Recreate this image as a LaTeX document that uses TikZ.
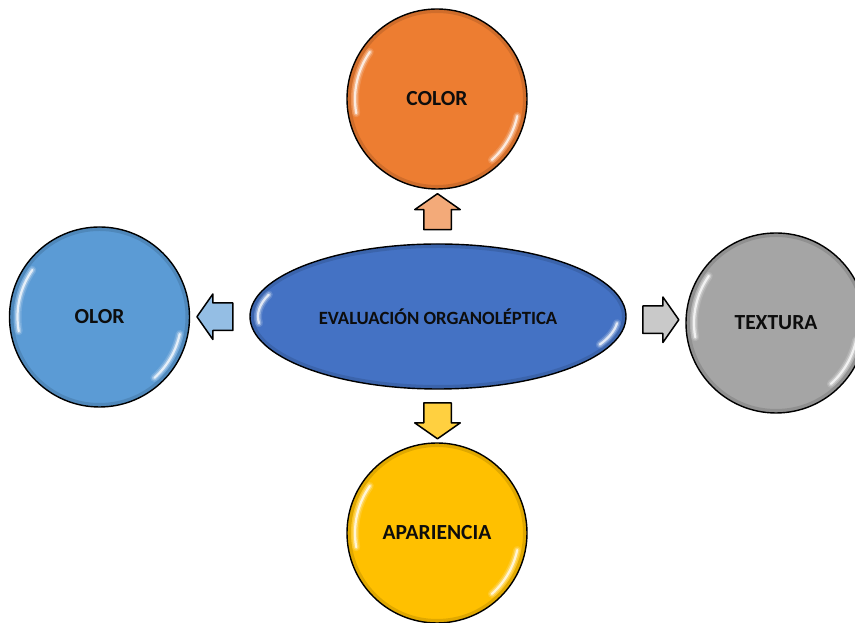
\documentclass[tikz,border=0pt]{standalone}
\usepackage{fontspec}
\setmainfont{Carlito}
\usetikzlibrary{shapes.geometric,shapes.arrows,calc}

\definecolor{colorfill}{HTML}{ED7D31}
\definecolor{olorfill}{HTML}{5B9BD5}
\definecolor{texturafill}{HTML}{A5A5A5}
\definecolor{aparienciafill}{HTML}{FFC000}
\definecolor{evalfill}{HTML}{4472C4}
\definecolor{textdark}{HTML}{0D0D0D}

\tikzset{
  gloss/.style={white, line cap=round},
  bubble/.style={circle, draw, line width=1.4pt, minimum size=180pt, inner sep=0pt,
    font=\fontsize{21.5}{25}\selectfont\bfseries, text=textdark,
    path picture={
      % soft rim and two glossy highlights
      \draw[black, opacity=0.12, line width=8pt] (path picture bounding box.center) circle (90pt);
      \foreach \w/\o in {8pt/0.15, 5pt/0.3, 2.2pt/0.75} {
        \draw[gloss, opacity=\o, line width=\w]
          (path picture bounding box.center) ++(145:82pt) arc (145:190:82pt);
        \draw[gloss, opacity=\o, line width=\w]
          (path picture bounding box.center) ++(-12:82pt) arc (-12:-48:82pt);
      }
    }},
  blockarrow/.style={single arrow, draw, line width=1.5pt, line join=round,
    inner xsep=0pt, inner ysep=13pt, text height=0pt, text depth=0pt, minimum height=36pt,
    single arrow head extend=9pt, single arrow tip angle=110}
}

\begin{document}
\begin{tikzpicture}[x=1pt, y=1pt]
  \useasboundingbox (0,0) rectangle (855,623);

  % Central ellipse
  \node[ellipse, draw, line width=1.4pt, fill=evalfill, minimum width=376pt, minimum height=145pt,
    inner sep=0pt, font=\fontsize{18.7}{22}\selectfont\bfseries, text=textdark,
    path picture={
      \draw[black, opacity=0.12, line width=8pt] (path picture bounding box.center) ellipse (188pt and 72.5pt);
      \foreach \w/\o in {8pt/0.15, 5pt/0.3, 2.2pt/0.75} {
        \draw[gloss, opacity=\o, line width=\w]
          (path picture bounding box.center) ++(160:180pt and 64pt) arc (160:186:180pt and 64pt);
        \draw[gloss, opacity=\o, line width=\w]
          (path picture bounding box.center) ++(-6:180pt and 64pt) arc (-6:-26:180pt and 64pt);
      }
    }] (eval) at (438,306.5) {EVALUACIÓN ORGANOLÉPTICA};

  % The four circles
  \foreach \name/\x/\y/\txt in {color/437/524/COLOR, olor/99.5/306/OLOR,
                                textura/776/300/TEXTURA, apariencia/437/90/APARIENCIA} {
    \node[bubble, fill=\name fill] (\name) at (\x,\y) {\txt};
  }

  % Block arrows halfway between ellipse and circles
  \node[blockarrow, rotate=90, fill=colorfill!65!white]
    (arrcolor) at ($(eval.north)!0.5!(color.south)$) {};
  \node[blockarrow, rotate=180, fill=olorfill!65!white]
    (arrolor) at ($(eval.west)!0.5!(olor.east)$) {};
  \node[blockarrow, fill=texturafill!60!white]
    (arrtextura) at ($(eval.east)!0.5!(textura.west)$) {};
  \node[blockarrow, rotate=270, fill=aparienciafill!75!white]
    (arrapariencia) at ($(eval.south)!0.5!(apariencia.north)$) {};
\end{tikzpicture}
\end{document}
